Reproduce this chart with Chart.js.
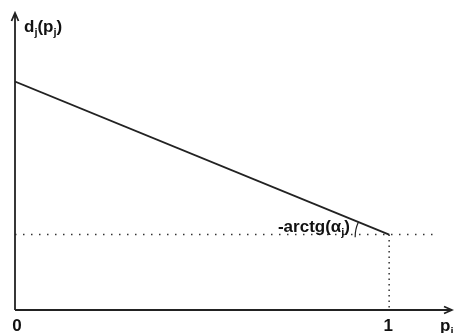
<!DOCTYPE html>
<html>
<head>
<meta charset="utf-8">
<script src="https://cdn.jsdelivr.net/npm/chart.js@4"></script>
<style>
  html, body { margin: 0; padding: 0; background: #fff; }
  #wrap { width: 454px; height: 333px; }
</style>
</head>
<body>
<div id="wrap"><canvas id="dChart"></canvas></div>
<script>
// demand line d_j(p_j) from p=0 to p=1
const pValues = [0, 1];
const dValues = [1.0, 0.33];
// tick labels on the p axis
const pTicks = [0, 1];
const pTickLabels = ['0', '1'];
const xMax = 1.168;
const yMax = 1.3;
const dottedEndX = 1.122;

const FONT = 'bold 17px "Liberation Sans", Arial, sans-serif';
const SUB = 'bold 11px "Liberation Sans", Arial, sans-serif';

// draws text pieces, some of them as subscripts
function richText(ctx, parts, x, y) {
    let cx = x;
    parts.forEach(p => {
        ctx.font = p.sub ? SUB : FONT;
        ctx.fillText(p.t, cx, p.sub ? y + 4 : y);
        cx += ctx.measureText(p.t).width;
    });
    return cx;
}
function richWidth(ctx, parts) {
    let w = 0;
    parts.forEach(p => { ctx.font = p.sub ? SUB : FONT; w += ctx.measureText(p.t).width; });
    return w;
}

const axesPlugin = {
    id: 'axesPlugin',
    afterDatasetsDraw(chart) {
        const ctx = chart.ctx;
        const xs = chart.scales.x, ys = chart.scales.y;
        const x0 = xs.getPixelForValue(0), y0 = ys.getPixelForValue(0);
        const a = chart.chartArea;
        ctx.save();
        ctx.strokeStyle = '#222';
        ctx.fillStyle = '#222';
        ctx.lineWidth = 1.8;
        // y axis + arrow
        ctx.beginPath();
        ctx.moveTo(x0, y0); ctx.lineTo(x0, a.top);
        ctx.moveTo(x0 - 3.5, a.top + 8); ctx.lineTo(x0, a.top); ctx.lineTo(x0 + 3.5, a.top + 8);
        ctx.stroke();
        // x axis + arrow
        ctx.beginPath();
        ctx.moveTo(x0, y0); ctx.lineTo(a.right, y0);
        ctx.moveTo(a.right - 8, y0 - 3.5); ctx.lineTo(a.right, y0); ctx.lineTo(a.right - 8, y0 + 3.5);
        ctx.stroke();

        // angle arc at the end of the line
        const ex = xs.getPixelForValue(pValues[1]), ey = ys.getPixelForValue(dValues[1]);
        const sx = xs.getPixelForValue(pValues[0]), sy = ys.getPixelForValue(dValues[0]);
        const ang = Math.atan2(sy - ey, sx - ex);
        ctx.lineWidth = 1.2;
        ctx.beginPath();
        ctx.arc(ex, ey + 2, 34, ang + 0.05, Math.PI - 0.02, true);
        ctx.stroke();

        ctx.fillStyle = '#111';
        ctx.textBaseline = 'alphabetic';
        // tick labels
        ctx.font = FONT;
        ctx.textAlign = 'center';
        pTicks.forEach((v, i) => {
            ctx.fillText(pTickLabels[i], xs.getPixelForValue(v) + (i === 0 ? 2 : -1), y0 + 21);
        });
        ctx.textAlign = 'left';
        // axis titles
        richText(ctx, [{t: 'p'}, {t: 'j', sub: true}], 440, y0 + 21);
        richText(ctx, [{t: 'd'}, {t: 'j', sub: true}, {t: '(p'}, {t: 'j', sub: true}, {t: ')'}], 24, 32);
        // angle label
        const lab = [{t: '-arctg(α'}, {t: 'j', sub: true}, {t: ')'}];
        const w = richWidth(ctx, lab);
        richText(ctx, lab, 350 - w, 232);
        ctx.restore();
    }
};

new Chart(document.getElementById('dChart').getContext('2d'), {
    type: 'scatter',
    data: {
        datasets: [
            {
                data: pValues.map((p, i) => ({x: p, y: dValues[i]})),
                showLine: true,
                borderColor: '#222',
                borderWidth: 1.8,
                pointRadius: 0,
            },
            {
                data: [{x: 0, y: dValues[1]}, {x: dottedEndX, y: dValues[1]}],
                showLine: true,
                borderColor: '#333',
                borderWidth: 1.5,
                borderDash: [1.5, 6.5],
                pointRadius: 0,
            },
            {
                data: [{x: pValues[1], y: dValues[1]}, {x: pValues[1], y: 0}],
                showLine: true,
                borderColor: '#333',
                borderWidth: 1.5,
                borderDash: [1.5, 4],
                pointRadius: 0,
            }
        ]
    },
    options: {
        responsive: true,
        maintainAspectRatio: false,
        animation: false,
        layout: { padding: { left: 15, top: 13, right: 2, bottom: 23 } },
        scales: {
            x: { type: 'linear', min: 0, max: xMax, display: false },
            y: { type: 'linear', min: 0, max: yMax, display: false }
        },
        plugins: {
            legend: { display: false },
            tooltip: { enabled: false }
        }
    },
    plugins: [axesPlugin]
});
</script>
</body>
</html>
